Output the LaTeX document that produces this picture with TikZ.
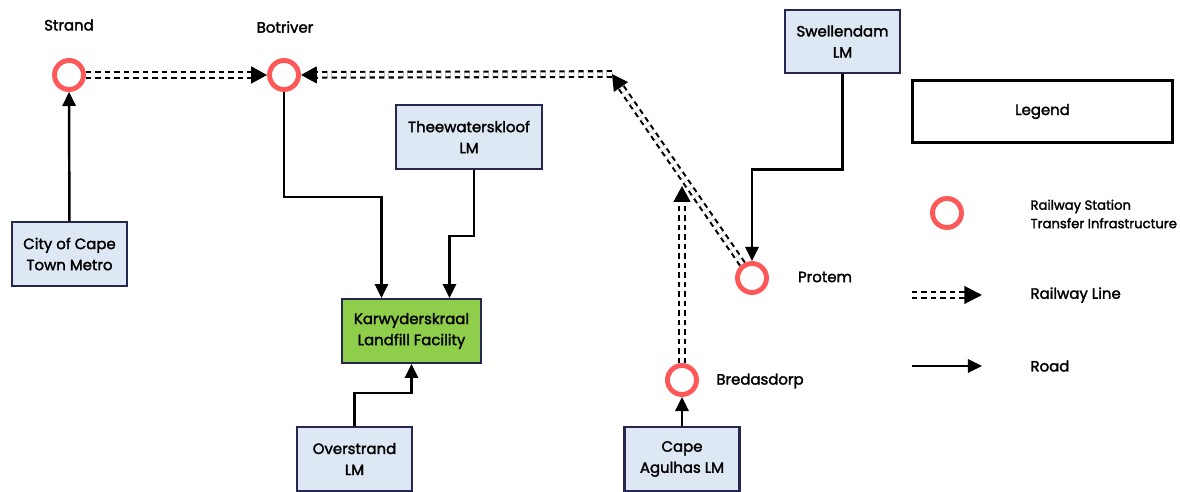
\documentclass[tikz,border=0pt]{standalone}
\usepackage{fontspec}
\setmainfont{Poppins}[FakeBold=2]
\usepackage{tikz}
\usetikzlibrary{positioning,shapes,arrows.meta,calc}

\definecolor{stationred}{RGB}{255,88,88}
\definecolor{boxblue}{RGB}{222,232,244}
\definecolor{boxline}{RGB}{38,38,80}
\definecolor{landgreen}{RGB}{142,206,74}

\tikzset{
  station/.style={draw=stationred, circle, line width=2.8pt, minimum size=0.58cm, inner sep=0pt},
  lmbox/.style={draw=boxline, fill=boxblue, rectangle, line width=1.3pt, minimum width=2.3cm, minimum height=1.27cm, align=center, font=\fontsize{8.5}{12}\selectfont},
  lbl/.style={font=\fontsize{8.5}{12}\selectfont},
  keytext/.style={anchor=west, align=left, font=\fontsize{7.5}{10.5}\selectfont},
  road/.style={line width=1.4pt, -{Triangle[length=8pt,width=7.5pt]}},
  rail/.style={line width=1.2pt, double distance=2pt, dash pattern=on 3pt off 2.4pt, -{Triangle[length=9pt,width=9.5pt]}}
}

\begin{document}
\begin{tikzpicture}[x=0.02cm,y=-0.02cm,thick]
    \useasboundingbox (0,0) rectangle (1180,492);
    % stations
    \node[station] (strand) at (69,75) {};
    \node[station] (botriver) at (284,75) {};
    \node[station] (protem) at (752,278) {};
    \node[station] (bredasdorp) at (682,380) {};
    \node[lbl] (strandlbl) at (69,25) {Strand};
    \node[lbl] (botriverlbl) at (285,27) {Botriver};
    \node[lbl] (protemlbl) at (825,277) {Protem};
    \node[lbl] (bredasdorplbl) at (760,381) {Bredasdorp};

    % municipalities
    \node[lmbox] (city) at (69.5,254) {City of Cape\\Town Metro};
    \node[lmbox, minimum width=2.92cm] (theewater) at (469,137) {Theewaterskloof\\LM};
    \node[lmbox] (swellendam) at (842.5,41.5) {Swellendam\\LM};
    \node[lmbox, fill=landgreen, minimum width=2.78cm] (landfill) at (411.5,331) {Karwyderskraal\\Landfill Facility};
    \node[lmbox] (overstrand) at (354.5,459) {Overstrand\\LM};
    \node[lmbox] (agulhas) at (682,459) {Cape\\Agulhas LM};

    % railway
    \coordinate (railbend) at (612,74);
    \coordinate (railend) at (682,186);
    \draw[rail] (strand) -- (botriver);
    \draw[rail] (railbend) -- (botriver);
    \draw[rail] (protem) -- (railbend);
    \draw[rail] (bredasdorp) -- (railend);

    % roads
    \draw[road] (city) -- (strand);
    \draw[road] (agulhas) -- (bredasdorp);
    \draw[road] (botriver.south) -- ++(0,105) -| ($(landfill.north)+(-30,0)$);
    \draw[road] ($(theewater.south)+(5,0)$) -- ++(0,66) -| ($(landfill.north)+(38,0)$);
    \draw[road] (overstrand.north) -- ++(0,-33) -| (landfill.south);
    \draw[road] (swellendam.south) -- ++(0,95) -| (protem.north);

    % legend
    \node[draw, rectangle, line width=1.4pt, minimum width=5.2cm, minimum height=1.24cm, lbl] (legend) at (1042.5,111.5) {Legend};
    \node[station] (keystation) at (947,213) {};
    \node[keytext] (keystationtxt) at (1024,214) {Railway Station\\Transfer Infrastructure};
    \coordinate (keyrailA) at (912,295);
    \coordinate (keyrailB) at (982,295);
    \draw[rail, -{Triangle[length=10pt,width=10pt]}] (keyrailA) -- (keyrailB);
    \node[keytext, font=\fontsize{8.5}{12}\selectfont] (keyraillbl) at (1024,295) {Railway Line};
    \coordinate (keyroadA) at (912,366);
    \coordinate (keyroadB) at (982,366);
    \draw[road] (keyroadA) -- (keyroadB);
    \node[keytext, font=\fontsize{8.5}{12}\selectfont] (keyroadlbl) at (1024,366) {Road};
\end{tikzpicture}
\end{document}
